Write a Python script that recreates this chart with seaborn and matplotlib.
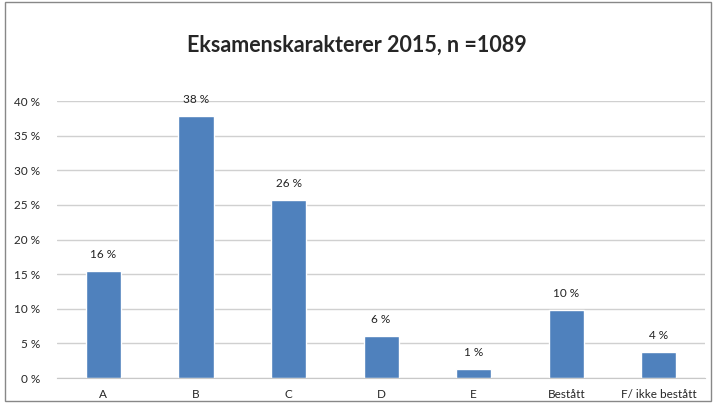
import matplotlib
matplotlib.use("Agg")
import matplotlib.pyplot as plt
import seaborn as sns
import pandas as pd
from matplotlib.patches import Rectangle

# karakterfordeling, lest av figuren
karakterer = ["A", "B", "C", "D", "E", "Bestått", "F/ ikke bestått"]
andel = [15.4, 37.8, 25.7, 6.1, 1.3, 9.8, 3.75]
etiketter = ["16 %", "38 %", "26 %", "6 %", "1 %", "10 %", "4 %"]
yticks = [0, 5, 10, 15, 20, 25, 30, 35, 40]

df = pd.DataFrame({"karakter": karakterer, "andel": andel})

sns.set_style("white")
plt.rcParams["font.family"] = ["Lato", "DejaVu Sans"]

fig = plt.figure(figsize=(7.13, 4.03), dpi=100)
ax = fig.add_axes([0.080, 0.062, 0.909, 0.687])

sns.barplot(data=df, x="karakter", y="andel", color="#4F81BD",
            width=0.38, saturation=1, ax=ax)

for i, (v, t) in enumerate(zip(andel, etiketter)):
    ax.text(i, v + 1.6, t, ha="center", va="bottom", fontsize=8.5, color="#222222")

ax.set_ylim(0, 40)
ax.set_yticks(yticks)
ax.set_yticklabels([f"{t} %" for t in yticks], fontsize=8.5)
ax.tick_params(axis="x", labelsize=8.5, length=0, pad=8)
ax.tick_params(axis="y", length=0, pad=12)
ax.yaxis.grid(True, color="#d0d0d0", linewidth=1)
ax.set_axisbelow(True)
ax.set_xlabel("")
ax.set_ylabel("")
for s in ["top", "right", "left"]:
    ax.spines[s].set_visible(False)
ax.spines["bottom"].set_color("#c8c8c8")

fig.text(0.5, 0.888, "Eksamenskarakterer 2015, n =1089", ha="center",
         va="center", fontsize=15.5, fontweight="bold")

fig.patches.append(Rectangle((0.007, 0.005), 0.99, 0.99, transform=fig.transFigure,
                             fill=False, edgecolor="#888888", linewidth=1))

fig.savefig("out.png", dpi=100)
